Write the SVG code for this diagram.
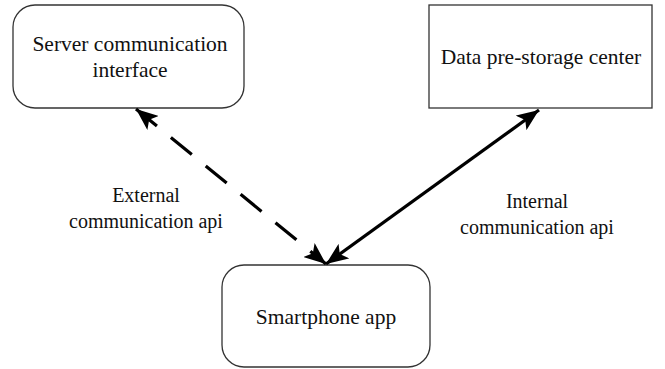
<svg xmlns="http://www.w3.org/2000/svg" width="665" height="369" viewBox="0 0 665 369">
<style>
.box{fill:#fff;stroke:#333;stroke-width:1.3}
.t{font-family:"Liberation Serif","Times New Roman",serif;font-size:21.5px;fill:#111;text-anchor:middle}
.l{font-size:20px}
.c{fill:none;stroke:#000;stroke-width:3.2}
</style>
<defs>
<marker id="ah" viewBox="0 0 22 18" refX="22" refY="9" markerWidth="22" markerHeight="18" markerUnits="userSpaceOnUse" orient="auto-start-reverse">
<path d="M0,0 L22,9 L0,18 L5,9 Z" fill="#000"/>
</marker>
</defs>
<rect width="665" height="369" fill="#fff"/>
<g id="server">
<rect class="box" x="13" y="5" width="231" height="103" rx="22"/>
<text class="t" x="130" y="51">Server communication</text>
<text class="t" x="130" y="77">interface</text>
</g>
<g id="datacenter">
<rect class="box" x="429" y="5" width="223" height="103"/>
<text class="t" x="541" y="64">Data pre-storage center</text>
</g>
<g id="smartphone">
<rect class="box" x="222" y="265" width="208" height="102" rx="22"/>
<text class="t" x="326" y="324">Smartphone app</text>
</g>
<g id="connectors">
<line class="c" x1="136" y1="109" x2="326" y2="264" stroke-dasharray="27 18" marker-start="url(#ah)" marker-end="url(#ah)"/>
<line class="c" x1="326" y1="264" x2="539" y2="110" marker-start="url(#ah)" marker-end="url(#ah)"/>
</g>
<g id="labels">
<text class="t l" x="146" y="202">External</text>
<text class="t l" x="146" y="228">communication api</text>
<text class="t l" x="537" y="208">Internal</text>
<text class="t l" x="537" y="234">communication api</text>
</g>
</svg>
